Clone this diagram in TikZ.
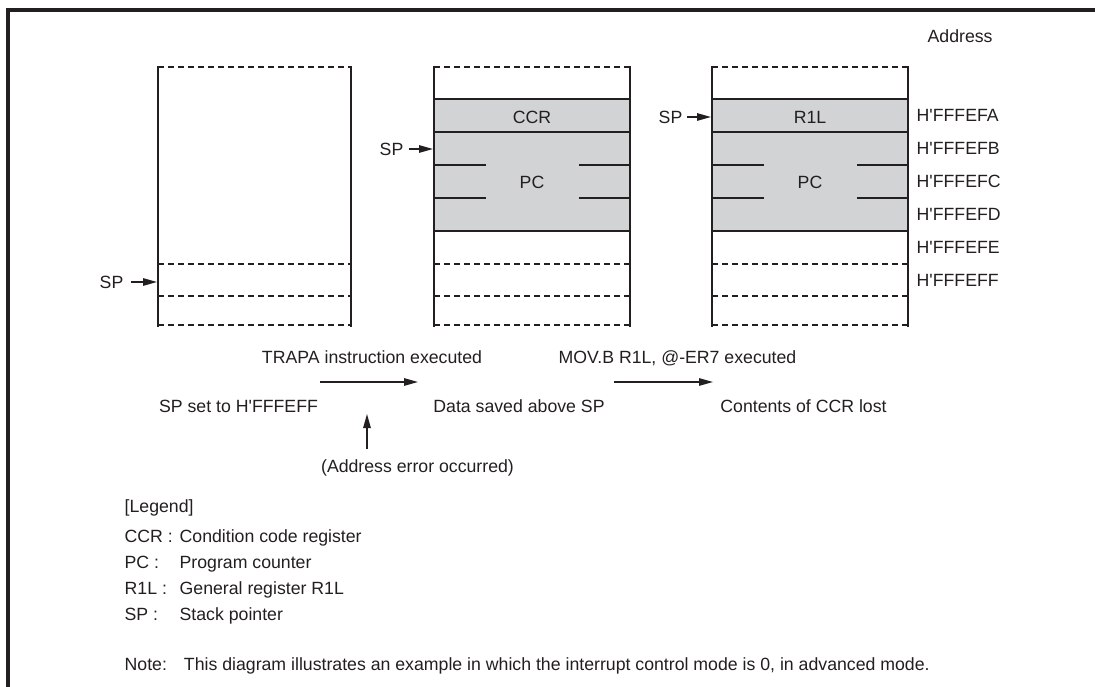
\documentclass[tikz,border=0pt]{standalone}
\usepackage{fontspec}
\setmainfont{Liberation Sans}[Ligatures=TeXOff]
\usetikzlibrary{arrows.meta}
\definecolor{ink}{RGB}{35,31,32}
\definecolor{cellgray}{RGB}{210,211,213}
\tikzset{
  stackdash/.style={dash pattern=on 6pt off 4pt, line width=1.2pt},
  stackwall/.style={line width=2.9pt},
  txt/.style={anchor=base west},
  ctxt/.style={anchor=base},
}
\begin{document}
\begin{tikzpicture}[x=1pt, y=-1pt, >={Triangle[length=14pt, width=7.5pt]}, ink, line width=1.3pt,
    every node/.style={inner sep=0pt, text=ink, font=\fontsize{17.7}{21}\selectfont}]
  \useasboundingbox (0,0) rectangle (1095,687);
  % 1. frame
  \draw[line width=3.2pt] (1095,10) -- (8,10) -- (8,687);

  % 2. saved data (gray cells)
  \foreach \l/\r in {434/630, 712/908}{
    \fill[cellgray] (\l,99) rectangle (\r,231);
    \draw (\l,99) -- (\r,99);
    \draw (\l,132) -- (\r,132);
    \draw (\l,231) -- (\r,231);
    \draw (\l,165) -- (\l+52,165);  \draw (\r-51,165) -- (\r,165);
    \draw (\l,198) -- (\l+52,198);  \draw (\r-51,198) -- (\r,198);
  }

  % 3. stack columns
  \foreach \l/\r in {158/351, 434/630, 712/908}{
    \draw[stackdash] (\l,67) -- (\r,67);
    \draw[stackdash] (\l,264) -- (\r,264);
    \draw[stackdash] (\l,296) -- (\r,296);
    \draw[stackdash] (\l,325) -- (\r,325);
    \draw[stackwall] (\l,66) -- (\l,327);
    \draw[stackwall] (\r,66) -- (\r,327);
  }

  % 4. cell labels
  \node[ctxt] (ccr) at (532,124) {CCR};
  \node[ctxt] (pcA) at (532,189) {PC};
  \node[ctxt] (rl)  at (810,124) {R1L};
  \node[ctxt] (pcB) at (810,189) {PC};

  % 5. addresses
  \node[txt] (addr) at (927,43) {Address};
  \foreach \a [count=\i from 0] in {A,B,C,D,E,F}
    \node[txt] (ad\a) at (916,122+33*\i) {H'FFFEF\a};

  % 6. stack pointers
  \node[anchor=east] (spA) at (124,282) {SP};
  \node[anchor=east] (spB) at (404,149) {SP};
  \node[anchor=east] (spC) at (683,117) {SP};
  \coordinate (wA) at (157,282);
  \coordinate (wB) at (433,149);
  \coordinate (wC) at (711,117);
  \draw[->, shorten <=7pt] (spA.east) -- (wA);
  \draw[->, shorten <=5pt] (spB.east) -- (wB);
  \draw[->, shorten <=4pt] (spC.east) -- (wC);

  % 7. steps
  \node[ctxt] (trapa) at (372,363) {TRAPA instruction executed};
  \node[ctxt] (movb)  at (677.5,363) {MOV.B R1L, @-ER7 executed};
  \node[ctxt] (st1) at (238.5,412) {SP set to H'FFFEFF};
  \node[ctxt] (st2) at (519,412) {Data saved above SP};
  \node[ctxt] (st3) at (803.5,412) {Contents of CCR lost};
  \node[ctxt] (err) at (417.5,472) {(Address error occurred)};
  \coordinate (trS) at (320,382);
  \coordinate (trE) at (418,382);
  \coordinate (mvS) at (614,382);
  \coordinate (mvE) at (713,382);
  \coordinate (upE) at (367,414);
  \draw[->] (trS) -- (trE);
  \draw[->] (mvS) -- (mvE);
  \draw[->, shorten <=10pt] (err.north -| upE) -- (upE);

  % 8. legend
  \node[txt] (leg) at (124,512) {[Legend]};
  \foreach \k/\d [count=\i from 0] in {CCR :/Condition code register, PC :/Program counter,
      R1L :/General register R1L, SP :/Stack pointer}{
    \node[txt] (key\i) at (124,542+26.3*\i) {\k};
    \node[txt] (dsc\i) at (179,542+26.3*\i) {\d};
  }
  \node[txt] (note) at (124,670) {Note:\hspace{17pt}This diagram illustrates an example in which the interrupt control mode is 0, in advanced mode.};
\end{tikzpicture}
\end{document}
